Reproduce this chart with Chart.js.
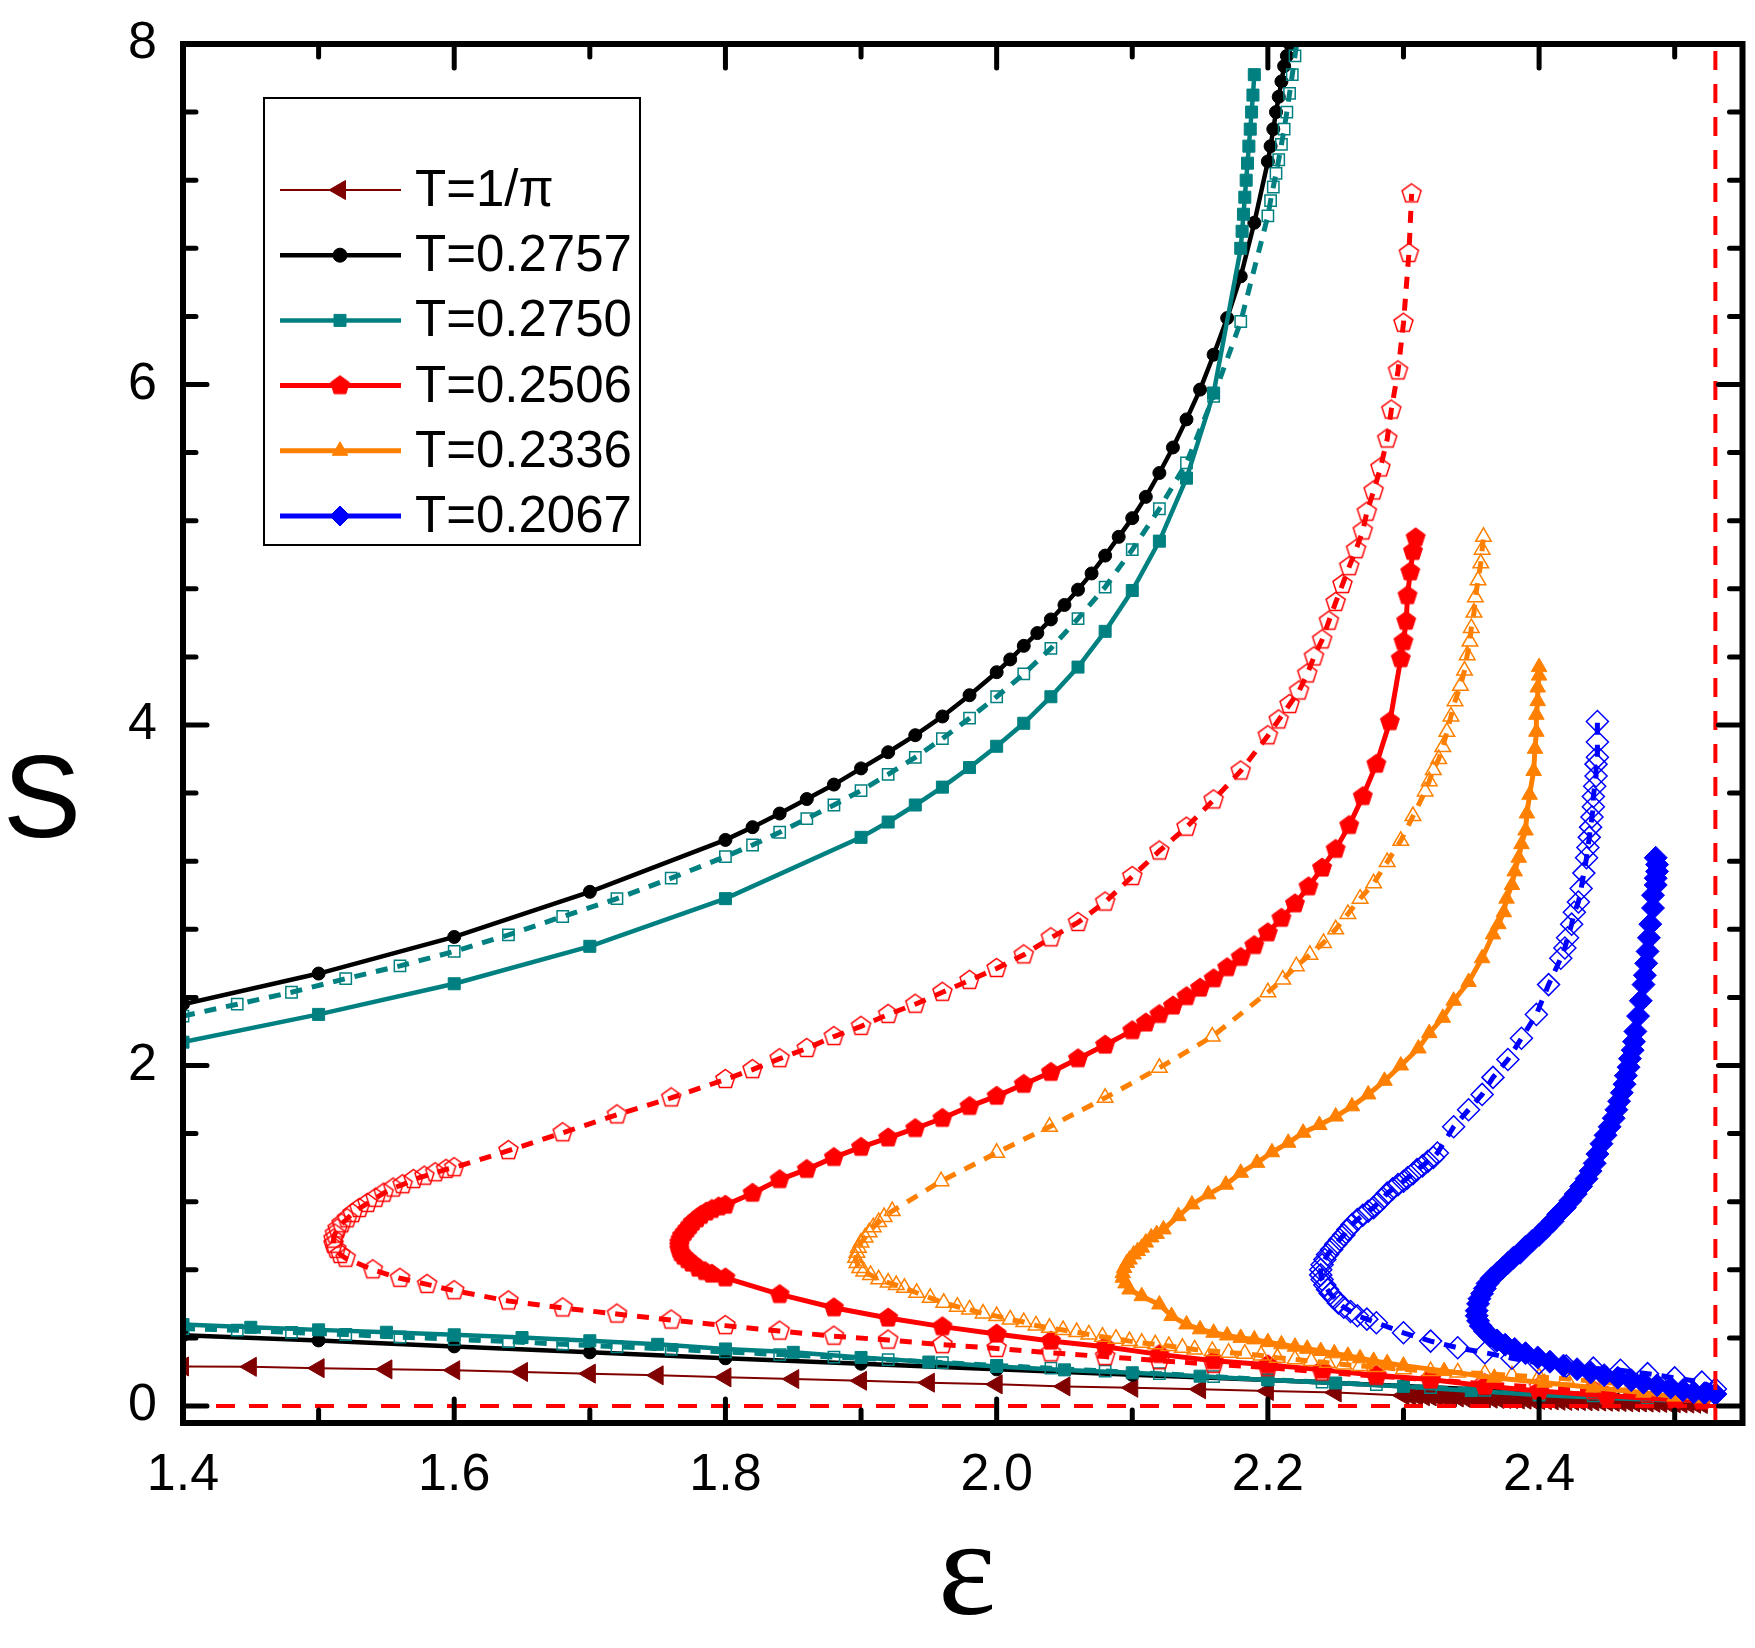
<!DOCTYPE html>
<html><head><meta charset="utf-8">
<script src="https://cdn.jsdelivr.net/npm/chart.js@4.4.1/dist/chart.umd.min.js"></script>
<style>html,body{margin:0;padding:0;background:#fff;overflow:hidden;}#wrap{width:1755px;height:1648px;overflow:hidden;}canvas{display:block;}</style>
</head><body><div id="wrap"><canvas id="c" width="1755" height="1648"></canvas></div>
<script>
// ---------- axis ticks / labels ----------
const xMajor = [1.4, 1.6, 1.8, 2.0, 2.2, 2.4];
const xMinor = [1.5, 1.7, 1.9, 2.1, 2.3, 2.5];
const yMajor = [0, 2, 4, 6, 8];
const yMinor = [0.4, 0.8, 1.2, 1.6, 2.4, 2.8, 3.2, 3.6, 4.4, 4.8, 5.2, 5.6, 6.4, 6.8, 7.2, 7.6];
const xRange = [1.4, 2.55];
const yRange = [-0.1, 8];
const refX = 2.53;
const refY = 0;
const xTitle = 'ε';
const yTitle = 'S';
const legendLabels = ['T=1/π', 'T=0.2757', 'T=0.2750', 'T=0.2506', 'T=0.2336', 'T=0.2067'];

// ---------- series (x, S) ----------
const tPi = [[1.40,0.232],[1.45,0.230],[1.50,0.222],[1.55,0.215],[1.60,0.210],[1.65,0.200],[1.70,0.190],[1.75,0.180],[1.80,0.168],[1.85,0.158],[1.90,0.148],[1.95,0.137],[2.00,0.127],[2.05,0.115],[2.10,0.107],[2.15,0.098],[2.20,0.088],[2.25,0.079],[2.300,0.062],[2.305,0.060],[2.310,0.058],[2.315,0.057],[2.320,0.056],[2.325,0.054],[2.330,0.052],[2.335,0.051],[2.340,0.050],[2.345,0.048],[2.350,0.047],[2.355,0.046],[2.360,0.045],[2.365,0.043],[2.370,0.041],[2.375,0.041],[2.380,0.040],[2.385,0.038],[2.390,0.037],[2.395,0.036],[2.400,0.035],[2.405,0.034],[2.410,0.033],[2.415,0.031],[2.420,0.030],[2.425,0.030],[2.430,0.029],[2.435,0.028],[2.440,0.027],[2.445,0.026],[2.450,0.025],[2.455,0.024],[2.460,0.023],[2.465,0.022],[2.470,0.021],[2.475,0.021],[2.480,0.020],[2.485,0.019],[2.490,0.018],[2.495,0.017],[2.500,0.016],[2.505,0.015],[2.510,0.014],[2.515,0.013],[2.520,0.012]];

const t2757Upper = [[1.40,2.36],[1.50,2.54],[1.60,2.755],[1.70,3.02],[1.80,3.325],[1.82,3.40],[1.84,3.48],[1.86,3.565],[1.88,3.65],[1.90,3.745],[1.92,3.84],[1.94,3.94],[1.96,4.05],[1.98,4.175],[2.00,4.31],[2.01,4.385],[2.02,4.465],[2.03,4.54],[2.04,4.62],[2.05,4.705],[2.06,4.795],[2.07,4.89],[2.08,4.995],[2.09,5.105],[2.10,5.215],[2.11,5.34],[2.12,5.48],[2.13,5.63],[2.14,5.795],[2.15,5.97],[2.16,6.175],[2.17,6.39],[2.18,6.635],[2.19,6.95],[2.20,7.31],[2.202,7.40],[2.204,7.50],[2.206,7.60],[2.208,7.69],[2.210,7.78],[2.212,7.87],[2.214,7.93],[2.216,8.00],[2.219,8.15]];
const t2757Lower = [[1.40,0.415],[1.50,0.385],[1.60,0.350],[1.70,0.315],[1.80,0.280],[1.90,0.248],[2.00,0.215],[2.10,0.183],[2.20,0.152],[2.30,0.118],[2.40,0.080],[2.50,0.042],[2.52,0.038]];

const t2750Upper = [[1.40,2.137],[1.50,2.30],[1.60,2.48],[1.70,2.70],[1.80,2.98],[1.90,3.34],[1.92,3.43],[1.94,3.53],[1.96,3.635],[1.98,3.75],[2.00,3.875],[2.02,4.01],[2.04,4.166],[2.06,4.34],[2.08,4.55],[2.10,4.79],[2.12,5.08],[2.14,5.45],[2.16,5.95],[2.18,6.80],[2.181,6.90],[2.182,7.00],[2.183,7.10],[2.184,7.20],[2.185,7.30],[2.186,7.40],[2.187,7.50],[2.188,7.60],[2.189,7.70],[2.190,7.82]];
const t2750Lower = [[1.40,0.478],[1.45,0.462],[1.50,0.447],[1.55,0.433],[1.60,0.418],[1.65,0.402],[1.70,0.383],[1.75,0.362],[1.80,0.335],[1.85,0.315],[1.90,0.285],[1.95,0.258],[2.00,0.232],[2.05,0.212],[2.10,0.195],[2.15,0.175],[2.20,0.153],[2.25,0.135],[2.30,0.115],[2.35,0.090],[2.40,0.064],[2.45,0.047],[2.50,0.032],[2.52,0.030]];
const t2750DashUpper = [[1.40,2.29],[1.44,2.36],[1.48,2.43],[1.52,2.51],[1.56,2.585],[1.60,2.67],[1.64,2.767],[1.68,2.875],[1.72,2.98],[1.76,3.10],[1.80,3.227],[1.82,3.295],[1.84,3.37],[1.86,3.45],[1.88,3.53],[1.90,3.615],[1.92,3.71],[1.94,3.81],[1.96,3.92],[1.98,4.04],[2.00,4.166],[2.02,4.30],[2.04,4.45],[2.06,4.625],[2.08,4.81],[2.10,5.03],[2.12,5.27],[2.14,5.54],[2.16,5.93],[2.18,6.37],[2.20,6.99],[2.202,7.08],[2.204,7.16],[2.206,7.24],[2.208,7.32],[2.210,7.41],[2.212,7.50],[2.214,7.60],[2.216,7.71],[2.218,7.82],[2.220,7.93],[2.222,8.04]];
const t2750DashLower = [[1.40,0.455],[1.44,0.445],[1.48,0.432],[1.52,0.420],[1.56,0.405],[1.60,0.392],[1.64,0.378],[1.68,0.363],[1.72,0.348],[1.76,0.333],[1.80,0.318],[1.84,0.302],[1.88,0.287],[1.92,0.272],[1.96,0.255],[2.00,0.238],[2.04,0.222],[2.08,0.205],[2.12,0.190],[2.16,0.172],[2.20,0.155],[2.24,0.140],[2.28,0.125],[2.32,0.108],[2.36,0.092],[2.40,0.075],[2.44,0.060],[2.48,0.047],[2.52,0.036]];

const t2506 = [[2.52,0.030],[2.50,0.036],[2.45,0.060],[2.40,0.088],[2.36,0.117],[2.32,0.155],[2.28,0.180],[2.24,0.212],[2.20,0.242],[2.16,0.266],[2.12,0.303],[2.08,0.348],[2.04,0.382],[2.00,0.423],[1.96,0.466],[1.92,0.517],[1.88,0.577],[1.84,0.655],[1.80,0.753],[1.79,0.775],[1.785,0.79],[1.78,0.81],[1.775,0.84],[1.772,0.86],[1.769,0.88],[1.767,0.90],[1.766,0.92],[1.766,0.94],[1.766,0.96],[1.767,0.98],[1.768,1.00],[1.770,1.02],[1.772,1.04],[1.774,1.06],[1.776,1.08],[1.779,1.10],[1.782,1.12],[1.786,1.14],[1.790,1.155],[1.795,1.17],[1.80,1.18],[1.82,1.25],[1.84,1.33],[1.86,1.39],[1.88,1.46],[1.90,1.52],[1.92,1.575],[1.94,1.63],[1.96,1.69],[1.98,1.76],[2.00,1.82],[2.02,1.89],[2.04,1.96],[2.06,2.04],[2.08,2.12],[2.10,2.205],[2.11,2.25],[2.12,2.30],[2.13,2.35],[2.14,2.405],[2.15,2.455],[2.16,2.51],[2.17,2.575],[2.18,2.635],[2.19,2.705],[2.20,2.78],[2.21,2.865],[2.22,2.95],[2.23,3.05],[2.24,3.16],[2.25,3.27],[2.26,3.41],[2.27,3.58],[2.28,3.77],[2.29,4.02],[2.298,4.39],[2.300,4.49],[2.302,4.61],[2.303,4.76],[2.305,4.90],[2.307,5.02],[2.309,5.10]];
const t2506Dash = [[2.52,0.050],[2.48,0.070],[2.44,0.090],[2.40,0.110],[2.36,0.130],[2.32,0.155],[2.28,0.175],[2.24,0.200],[2.20,0.225],[2.16,0.245],[2.12,0.266],[2.08,0.290],[2.04,0.312],[2.00,0.338],[1.96,0.360],[1.92,0.387],[1.88,0.410],[1.84,0.440],[1.80,0.472],[1.76,0.505],[1.72,0.540],[1.68,0.576],[1.64,0.617],[1.60,0.677],[1.58,0.714],[1.56,0.750],[1.54,0.800],[1.52,0.868],[1.516,0.89],[1.513,0.92],[1.511,0.95],[1.511,0.98],[1.512,1.01],[1.514,1.04],[1.517,1.07],[1.521,1.10],[1.525,1.13],[1.530,1.16],[1.536,1.19],[1.542,1.22],[1.548,1.25],[1.555,1.28],[1.562,1.30],[1.570,1.33],[1.578,1.35],[1.586,1.37],[1.594,1.39],[1.600,1.40],[1.64,1.50],[1.68,1.605],[1.72,1.71],[1.76,1.81],[1.80,1.918],[1.82,1.976],[1.84,2.04],[1.86,2.10],[1.88,2.17],[1.90,2.23],[1.92,2.30],[1.94,2.36],[1.96,2.43],[1.98,2.50],[2.00,2.57],[2.02,2.65],[2.04,2.75],[2.06,2.84],[2.08,2.96],[2.10,3.11],[2.12,3.26],[2.14,3.40],[2.16,3.56],[2.18,3.73],[2.20,3.937],[2.208,4.03],[2.216,4.12],[2.223,4.20],[2.229,4.30],[2.234,4.40],[2.240,4.50],[2.245,4.61],[2.250,4.72],[2.255,4.825],[2.260,4.93],[2.265,5.03],[2.270,5.14],[2.273,5.25],[2.278,5.375],[2.283,5.51],[2.288,5.68],[2.291,5.85],[2.296,6.08],[2.300,6.36],[2.304,6.77],[2.306,7.12]];

const t2336 = [[2.52,0.045],[2.50,0.055],[2.477,0.078],[2.44,0.108],[2.404,0.137],[2.367,0.166],[2.33,0.205],[2.30,0.237],[2.288,0.252],[2.278,0.265],[2.268,0.280],[2.259,0.295],[2.249,0.309],[2.239,0.323],[2.229,0.336],[2.22,0.348],[2.21,0.362],[2.20,0.375],[2.19,0.391],[2.18,0.400],[2.17,0.414],[2.16,0.430],[2.15,0.450],[2.14,0.479],[2.129,0.528],[2.12,0.596],[2.107,0.645],[2.098,0.684],[2.095,0.72],[2.093,0.753],[2.093,0.78],[2.094,0.81],[2.096,0.84],[2.098,0.86],[2.101,0.89],[2.104,0.91],[2.107,0.93],[2.110,0.96],[2.114,0.99],[2.118,1.01],[2.123,1.037],[2.134,1.115],[2.144,1.184],[2.156,1.243],[2.169,1.30],[2.18,1.37],[2.192,1.428],[2.203,1.49],[2.215,1.546],[2.226,1.605],[2.238,1.65],[2.25,1.70],[2.262,1.76],[2.274,1.83],[2.286,1.91],[2.298,2.00],[2.311,2.10],[2.319,2.19],[2.329,2.28],[2.337,2.38],[2.348,2.49],[2.358,2.63],[2.366,2.77],[2.370,2.83],[2.374,2.90],[2.376,2.98],[2.380,3.06],[2.382,3.14],[2.385,3.22],[2.387,3.30],[2.390,3.38],[2.391,3.48],[2.393,3.59],[2.396,3.73],[2.397,3.86],[2.398,3.96],[2.398,4.06],[2.399,4.14],[2.399,4.22],[2.400,4.29],[2.400,4.34]];
const t2336Dash = [[2.52,0.060],[2.50,0.085],[2.48,0.110],[2.46,0.130],[2.44,0.145],[2.42,0.160],[2.40,0.170],[2.38,0.180],[2.36,0.190],[2.34,0.197],[2.32,0.205],[2.30,0.215],[2.28,0.229],[2.268,0.235],[2.256,0.244],[2.244,0.254],[2.232,0.264],[2.22,0.274],[2.207,0.283],[2.195,0.297],[2.183,0.307],[2.171,0.313],[2.159,0.323],[2.146,0.332],[2.137,0.342],[2.127,0.352],[2.117,0.362],[2.107,0.371],[2.098,0.381],[2.088,0.395],[2.078,0.407],[2.068,0.420],[2.059,0.434],[2.049,0.446],[2.039,0.459],[2.029,0.473],[2.02,0.493],[2.01,0.508],[2.00,0.528],[1.99,0.543],[1.98,0.567],[1.971,0.583],[1.961,0.606],[1.951,0.635],[1.941,0.665],[1.932,0.694],[1.926,0.71],[1.92,0.725],[1.913,0.744],[1.907,0.77],[1.902,0.79],[1.899,0.81],[1.897,0.84],[1.896,0.87],[1.897,0.90],[1.898,0.93],[1.900,0.96],[1.903,0.99],[1.906,1.02],[1.909,1.05],[1.913,1.08],[1.917,1.11],[1.923,1.145],[1.959,1.32],[2.00,1.487],[2.039,1.64],[2.08,1.81],[2.12,1.986],[2.159,2.17],[2.20,2.43],[2.211,2.505],[2.221,2.583],[2.231,2.65],[2.241,2.72],[2.25,2.80],[2.259,2.89],[2.268,2.98],[2.278,3.07],[2.288,3.195],[2.298,3.32],[2.307,3.465],[2.316,3.61],[2.319,3.67],[2.322,3.735],[2.326,3.80],[2.329,3.87],[2.332,3.96],[2.335,4.05],[2.338,4.14],[2.342,4.23],[2.345,4.32],[2.347,4.41],[2.349,4.49],[2.350,4.57],[2.352,4.66],[2.353,4.75],[2.355,4.85],[2.357,4.95],[2.358,5.03],[2.359,5.105]];

const t2067 = [[2.530,0.070],[2.522,0.075],[2.514,0.080],[2.506,0.092],[2.497,0.108],[2.487,0.122],[2.477,0.137],[2.468,0.151],[2.458,0.166],[2.448,0.181],[2.438,0.197],[2.428,0.216],[2.418,0.237],[2.408,0.260],[2.399,0.285],[2.390,0.310],[2.382,0.335],[2.375,0.360],[2.369,0.385],[2.364,0.410],[2.360,0.440],[2.357,0.470],[2.355,0.500],[2.354,0.530],[2.354,0.560],[2.355,0.600],[2.356,0.630],[2.358,0.660],[2.360,0.690],[2.362,0.720],[2.365,0.750],[2.369,0.780],[2.373,0.810],[2.377,0.840],[2.381,0.870],[2.386,0.900],[2.390,0.935],[2.395,0.970],[2.400,1.005],[2.405,1.045],[2.410,1.085],[2.414,1.125],[2.419,1.165],[2.423,1.205],[2.427,1.245],[2.431,1.290],[2.435,1.335],[2.438,1.380],[2.441,1.425],[2.443,1.480],[2.446,1.540],[2.449,1.590],[2.452,1.640],[2.455,1.690],[2.457,1.740],[2.459,1.790],[2.461,1.840],[2.463,1.890],[2.464,1.940],[2.466,1.990],[2.467,2.040],[2.469,2.090],[2.470,2.140],[2.471,2.200],[2.473,2.290],[2.475,2.380],[2.477,2.475],[2.478,2.530],[2.479,2.600],[2.480,2.670],[2.481,2.750],[2.482,2.830],[2.484,2.925],[2.484,3.000],[2.486,3.060],[2.486,3.100],[2.487,3.140],[2.487,3.180],[2.486,3.220]];
const t2067Dash = [[2.530,0.100],[2.520,0.140],[2.500,0.165],[2.480,0.190],[2.460,0.210],[2.440,0.222],[2.420,0.235],[2.400,0.252],[2.380,0.280],[2.360,0.313],[2.340,0.342],[2.320,0.381],[2.300,0.430],[2.280,0.489],[2.273,0.510],[2.266,0.530],[2.261,0.555],[2.256,0.580],[2.252,0.605],[2.249,0.635],[2.246,0.660],[2.244,0.684],[2.242,0.710],[2.240,0.743],[2.239,0.770],[2.239,0.800],[2.240,0.830],[2.242,0.860],[2.244,0.890],[2.247,0.919],[2.250,0.950],[2.253,0.978],[2.256,1.005],[2.259,1.036],[2.262,1.065],[2.266,1.095],[2.270,1.120],[2.274,1.144],[2.278,1.165],[2.281,1.190],[2.285,1.220],[2.288,1.250],[2.292,1.275],[2.296,1.300],[2.300,1.320],[2.303,1.340],[2.307,1.365],[2.310,1.388],[2.314,1.410],[2.318,1.437],[2.322,1.460],[2.325,1.486],[2.337,1.640],[2.348,1.740],[2.358,1.830],[2.366,1.930],[2.377,2.035],[2.387,2.160],[2.398,2.300],[2.407,2.475],[2.416,2.630],[2.419,2.690],[2.421,2.750],[2.424,2.830],[2.426,2.900],[2.429,2.960],[2.431,3.040],[2.433,3.130],[2.435,3.220],[2.436,3.280],[2.437,3.340],[2.438,3.400],[2.439,3.460],[2.440,3.520],[2.440,3.580],[2.441,3.640],[2.442,3.700],[2.442,3.770],[2.443,3.810],[2.443,3.900],[2.443,4.020]];

// ---------- styles ----------
const C = {pi:'#800000', black:'#000000', teal:'#008080', red:'#FF0000', orange:'#FF8000', blue:'#0000FF'};
const FONT = '"Liberation Sans", Arial, sans-serif';

function pentagon(r, color, filled, lw) {
  const s = Math.ceil(2 * r + 2 * lw + 2);
  const c = document.createElement('canvas');
  c.width = s; c.height = s;
  const g = c.getContext('2d');
  g.beginPath();
  for (let i = 0; i < 5; i++) {
    const a = -Math.PI / 2 + i * 2 * Math.PI / 5;
    const px = s / 2 + r * Math.cos(a), py = s / 2 + r * Math.sin(a);
    if (i) g.lineTo(px, py); else g.moveTo(px, py);
  }
  g.closePath();
  if (filled) { g.fillStyle = color; g.fill(); }
  g.strokeStyle = color; g.lineWidth = lw; g.stroke();
  return c;
}
const pentFill = pentagon(10, C.red, true, 1);
const pentOpen = pentagon(10, C.red, false, 1.5);

const pts = arr => arr.map(p => ({x: p[0], y: p[1]}));
function ds(data, color, o) {
  return Object.assign({
    data: pts(data), showLine: true, fill: false, tension: 0,
    borderColor: color, pointBorderColor: color, pointBackgroundColor: color,
    pointBorderWidth: 1, borderWidth: 5, pointRadius: 8
  }, o);
}
const open = 'rgba(0,0,0,0)';
const dash = [12, 10];

const marks = [
  {color: C.pi, lw: 2, style: 'triangle', rot: 270, r: 11},
  {color: C.black, lw: 4.5, style: 'circle', rot: 0, r: 7},
  {color: C.teal, lw: 4.5, style: 'rect', rot: 0, r: 8.5},
  {color: C.red, lw: 5, style: pentFill, rot: 0, r: 10},
  {color: C.orange, lw: 5, style: 'triangle', rot: 0, r: 9},
  {color: C.blue, lw: 5, style: 'rectRot', rot: 0, r: 10}
];

const datasets = [
  ds(tPi, C.pi, {borderWidth: 2, pointStyle: 'triangle', pointRotation: 270, pointRadius: 11, order: 100}),
  ds(t2757Upper, C.black, {borderWidth: 4.5, pointStyle: 'circle', pointRadius: 6.5, order: 99}),
  ds(t2757Lower, C.black, {borderWidth: 4.5, pointStyle: 'circle', pointRadius: 6.5, order: 98}),
  ds(t2750DashUpper, C.teal, {borderDash: dash, pointStyle: 'rect', pointRadius: 8, pointBackgroundColor: open, pointBorderWidth: 1.5, order: 97}),
  ds(t2750DashLower, C.teal, {borderDash: dash, pointStyle: 'rect', pointRadius: 8, pointBackgroundColor: open, pointBorderWidth: 1.5, order: 96}),
  ds(t2750Upper, C.teal, {borderWidth: 4.5, pointStyle: 'rect', pointRadius: 8.5, order: 95}),
  ds(t2750Lower, C.teal, {borderWidth: 4.5, pointStyle: 'rect', pointRadius: 8.5, order: 94}),
  ds(t2506Dash, C.red, {borderDash: dash, pointStyle: pentOpen, pointRadius: 10, pointBackgroundColor: open, order: 93}),
  ds(t2506, C.red, {pointStyle: pentFill, pointRadius: 10, order: 92}),
  ds(t2336Dash, C.orange, {borderDash: dash, pointStyle: 'triangle', pointRadius: 9, pointBackgroundColor: open, pointBorderWidth: 1.5, order: 91}),
  ds(t2336, C.orange, {pointStyle: 'triangle', pointRadius: 9, order: 90}),
  ds(t2067Dash, C.blue, {borderDash: dash, pointStyle: 'rectRot', pointRadius: 11, pointBackgroundColor: open, pointBorderWidth: 1.5, order: 89}),
  ds(t2067, C.blue, {pointStyle: 'rectRot', pointRadius: 11.5, order: 88}),
  {data: [{x: xRange[0], y: refY}, {x: xRange[1], y: refY}], showLine: true, borderColor: C.red, borderWidth: 4, borderDash: [19, 14], pointRadius: 0, order: 1},
  {data: [{x: refX, y: yRange[0]}, {x: refX, y: yRange[1]}], showLine: true, borderColor: C.red, borderWidth: 4, borderDash: [19, 14], pointRadius: 0, order: 0}
];

const decor = {
  id: 'decor',
  afterDraw(chart) {
    const {ctx, chartArea: a, scales: {x, y}} = chart;
    ctx.save();
    // inward ticks
    ctx.strokeStyle = '#000'; ctx.lineCap = 'round'; ctx.lineWidth = 5;
    const xt = xMajor.map(v => [v, 24]).concat(xMinor.map(v => [v, 13]));
    xt.forEach(([v, len]) => {
      const px = x.getPixelForValue(v);
      ctx.beginPath();
      ctx.moveTo(px, a.bottom); ctx.lineTo(px, a.bottom - len);
      ctx.moveTo(px, a.top); ctx.lineTo(px, a.top + len);
      ctx.stroke();
    });
    const yt = yMajor.map(v => [v, 24]).concat(yMinor.map(v => [v, 13]));
    yt.forEach(([v, len]) => {
      const py = y.getPixelForValue(v);
      ctx.beginPath();
      ctx.moveTo(a.left, py); ctx.lineTo(a.left + len, py);
      ctx.moveTo(a.right, py); ctx.lineTo(a.right - len, py);
      ctx.stroke();
    });
    // frame
    ctx.lineCap = 'butt'; ctx.lineWidth = 6;
    ctx.strokeRect(a.left, a.top, a.right - a.left, a.bottom - a.top);
    // axis titles
    ctx.fillStyle = '#000';
    ctx.textAlign = 'center'; ctx.textBaseline = 'alphabetic';
    ctx.font = '117px ' + FONT;
    ctx.fillText(yTitle, 42, 837);
    ctx.font = '138px "Liberation Serif", "Times New Roman", serif';
    ctx.fillText(xTitle, 967, 1614);
    // legend
    ctx.lineWidth = 2; ctx.strokeStyle = '#000';
    ctx.strokeRect(264, 98, 376, 447);
    legendLabels.forEach((lab, i) => {
      const cy = 190 + i * 65.2;
      const m = marks[i];
      ctx.beginPath(); ctx.strokeStyle = m.color; ctx.lineWidth = m.lw; ctx.setLineDash([]);
      ctx.moveTo(280, cy); ctx.lineTo(401, cy); ctx.stroke();
      ctx.fillStyle = m.color; ctx.strokeStyle = m.color; ctx.lineWidth = 1;
      Chart.helpers.drawPoint(ctx, {pointStyle: m.style, rotation: m.rot, radius: m.r, borderWidth: 1}, 340, cy);
      ctx.fillStyle = '#000'; ctx.textAlign = 'left'; ctx.textBaseline = 'middle';
      ctx.font = '51px ' + FONT;
      ctx.fillText(lab, 415, cy + 2);
    });
    ctx.restore();
  }
};

new Chart(document.getElementById('c'), {
  type: 'scatter',
  data: {datasets},
  options: {
    responsive: false, animation: false, devicePixelRatio: 1, events: [],
    layout: {padding: {top: 44, right: 5, left: 0, bottom: 0}},
    plugins: {legend: {display: false}, tooltip: {enabled: false}},
    scales: {
      x: {
        type: 'linear', min: xRange[0], max: xRange[1],
        grid: {display: false, drawTicks: false}, border: {display: false},
        afterBuildTicks: s => { s.ticks = xMajor.map(v => ({value: v})); },
        afterFit: s => { s.height = 225; s.paddingLeft = 0; s.paddingRight = 0; },
        ticks: {color: '#000', font: {family: FONT, size: 52}, padding: 21, maxRotation: 0, autoSkip: false,
          callback: v => Number(v).toFixed(1)}
      },
      y: {
        type: 'linear', min: yRange[0], max: yRange[1],
        grid: {display: false, drawTicks: false}, border: {display: false},
        afterBuildTicks: s => { s.ticks = yMajor.map(v => ({value: v})); },
        afterFit: s => { s.width = 183; s.paddingTop = 0; s.paddingBottom = 0; },
        ticks: {color: '#000', font: {family: FONT, size: 52}, padding: 26, autoSkip: false,
          callback: v => String(v)}
      }
    }
  },
  plugins: [decor]
});
</script>
</body></html>
